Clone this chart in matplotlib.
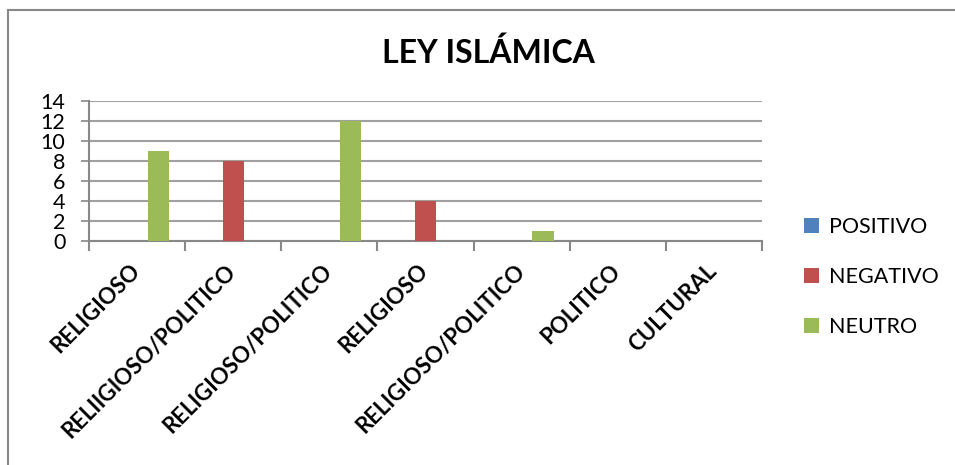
import numpy as np
import matplotlib
matplotlib.use("Agg")
import matplotlib.pyplot as plt
from matplotlib.lines import Line2D
from matplotlib.patches import Patch
from matplotlib.transforms import ScaledTranslation

# data
categorias = ["RELIGIOSO", "RELIIGIOSO/POLITICO", "RELIGIOSO/POLITICO",
              "RELIGIOSO", "RELIGIOSO/POLITICO", "POLITICO", "CULTURAL"]
positivo = [0, 0, 0, 0, 0, 0, 0]
negativo = [0, 8, 0, 4, 0, 0, 0]
neutro = [9, 0, 12, 0, 1, 0, 0]
series = ["POSITIVO", "NEGATIVO", "NEUTRO"]
colores = ["#4F81BD", "#C0504D", "#9BBB59"]

plt.rcParams['font.family'] = ['Lato', 'DejaVu Sans']

fig = plt.figure(figsize=(9.55, 4.65), dpi=100)
ax = fig.add_axes([89/955, 1-241/465, (762-89)/955, 140/465])

x = np.arange(len(categorias))
w = 1/4.5
for i, (vals, col) in enumerate(zip([positivo, negativo, neutro], colores)):
    ax.bar(x + (i-1)*w, vals, width=w, color=col, zorder=3)

ax.set_xlim(-0.5, len(categorias)-0.5)
ax.set_ylim(0, 14)
ax.set_yticks(range(0, 15, 2))
ax.set_yticklabels([str(v) for v in range(0, 15, 2)], fontsize=15.5)
ax.yaxis.grid(True, color="#a0a0a0", linewidth=1.5, zorder=0)
ax.tick_params(axis='y', length=6, width=1.2, color="#888888", pad=11)

# ticks at category boundaries, labels at centers
ax.set_xticks(np.arange(-0.5, len(categorias)), minor=False)
ax.set_xticklabels([])
ax.tick_params(axis='x', length=7, width=1.5, color="#888888")
ax.set_xticks(x, minor=True)
ax.set_xticklabels(categorias, minor=True, rotation=45, ha='right',
                   fontsize=16, fontweight='bold')
ax.tick_params(axis='x', which='minor', length=0, pad=14)
shift = ScaledTranslation(7/100, 0, fig.dpi_scale_trans)
for lab in ax.get_xticklabels(minor=True):
    lab.set_transform(lab.get_transform() + shift)

for s in ["top", "right"]:
    ax.spines[s].set_visible(False)
ax.spines["left"].set_color("#888888")
ax.spines["left"].set_linewidth(1.5)
ax.spines["bottom"].set_color("#888888")
ax.spines["bottom"].set_linewidth(1.5)

fig.text(488/955, 1-53/465, "LEY ISLÁMICA", ha='center', va='center',
         fontsize=23, fontweight='bold')

handles = [Patch(facecolor=c, edgecolor='none') for c in colores]
fig.legend(handles, series, loc='center left', bbox_to_anchor=(785/955, 1-277/465),
           frameon=False, fontsize=15.5, handlelength=0.7, handleheight=0.7,
           handletextpad=0.45, labelspacing=1.4)

# outer chart border
yb = 1-10/465
xb = 8/955
fig.add_artist(Line2D([xb, 1], [yb, yb], color="#888888", linewidth=1.5))
fig.add_artist(Line2D([xb, xb], [0, yb], color="#888888", linewidth=1.5))

fig.savefig("out.png", dpi=100)
